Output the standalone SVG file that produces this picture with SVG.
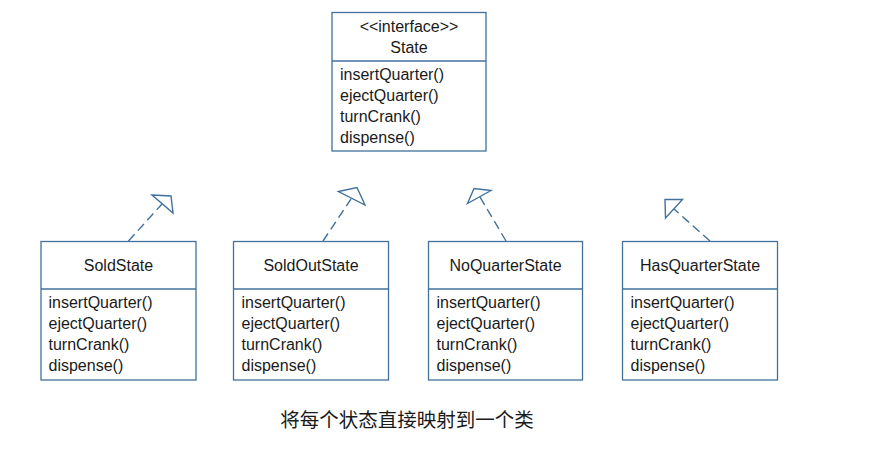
<svg xmlns="http://www.w3.org/2000/svg" width="875" height="458" viewBox="0 0 875 458">
<style>
.box{fill:#fff;stroke:#41719c;stroke-width:1.3}
.div{stroke:#41719c;stroke-width:1.3}
.t{font-family:"Liberation Sans",Arial,sans-serif;font-size:16px;fill:#1a1a1a}
.c{text-anchor:middle}
.dash{stroke:#41719c;stroke-width:1.4;stroke-dasharray:9 5;fill:none}
.tri{fill:#fff;stroke:#41719c;stroke-width:1.4;stroke-linejoin:miter}
.cap{font-family:"Liberation Sans","Noto Sans CJK SC",sans-serif;font-size:19.5px;fill:#1a1a1a;text-anchor:middle}
</style>
<rect width="875" height="458" fill="#fff"/>
<g id="connectors">
<line class="dash" x1="128.5" y1="241" x2="162" y2="204"/>
<polygon class="tri" points="152,195 171,196 173,213"/>
<line class="dash" x1="323" y1="241" x2="351" y2="199"/>
<polygon class="tri" points="338.5,191.5 357,187.5 365,205"/>
<line class="dash" x1="506" y1="241" x2="480" y2="197"/>
<polygon class="tri" points="467.5,203.5 474,188.5 491,190.5"/>
<line class="dash" x1="710" y1="241" x2="674" y2="209"/>
<polygon class="tri" points="682.5,199.5 665,199.5 665.5,218"/>
</g>
<g id="State">
<rect class="box" x="332" y="12.5" width="154" height="138.5"/>
<line class="div" x1="332" y1="61" x2="486" y2="61"/>
<text class="t c" x="409" y="31.5">&lt;&lt;interface&gt;&gt;</text>
<text class="t c" x="409" y="53">State</text>
<text class="t" x="340" y="79.5">insertQuarter()</text>
<text class="t" x="340" y="100.5">ejectQuarter()</text>
<text class="t" x="340" y="121.5">turnCrank()</text>
<text class="t" x="340" y="142.5">dispense()</text>
</g>
<g id="SoldState">
<rect class="box" x="41" y="241.5" width="155" height="138.5"/>
<line class="div" x1="41" y1="289" x2="196" y2="289"/>
<text class="t c" x="118.5" y="271">SoldState</text>
<text class="t" x="48.5" y="308">insertQuarter()</text>
<text class="t" x="48.5" y="329">ejectQuarter()</text>
<text class="t" x="48.5" y="350">turnCrank()</text>
<text class="t" x="48.5" y="371">dispense()</text>
</g>
<g id="SoldOutState">
<rect class="box" x="233.5" y="241.5" width="155" height="138.5"/>
<line class="div" x1="233.5" y1="289" x2="388.5" y2="289"/>
<text class="t c" x="311" y="271">SoldOutState</text>
<text class="t" x="241.5" y="308">insertQuarter()</text>
<text class="t" x="241.5" y="329">ejectQuarter()</text>
<text class="t" x="241.5" y="350">turnCrank()</text>
<text class="t" x="241.5" y="371">dispense()</text>
</g>
<g id="NoQuarterState">
<rect class="box" x="428.5" y="241.5" width="154" height="138.5"/>
<line class="div" x1="428.5" y1="289" x2="582.5" y2="289"/>
<text class="t c" x="505.5" y="271">NoQuarterState</text>
<text class="t" x="436.5" y="308">insertQuarter()</text>
<text class="t" x="436.5" y="329">ejectQuarter()</text>
<text class="t" x="436.5" y="350">turnCrank()</text>
<text class="t" x="436.5" y="371">dispense()</text>
</g>
<g id="HasQuarterState">
<rect class="box" x="622.5" y="241.5" width="155" height="138.5"/>
<line class="div" x1="622.5" y1="289" x2="777.5" y2="289"/>
<text class="t c" x="700" y="271">HasQuarterState</text>
<text class="t" x="630.5" y="308">insertQuarter()</text>
<text class="t" x="630.5" y="329">ejectQuarter()</text>
<text class="t" x="630.5" y="350">turnCrank()</text>
<text class="t" x="630.5" y="371">dispense()</text>
</g>
<text class="cap" x="407" y="427">将每个状态直接映射到一个类</text>
</svg>
